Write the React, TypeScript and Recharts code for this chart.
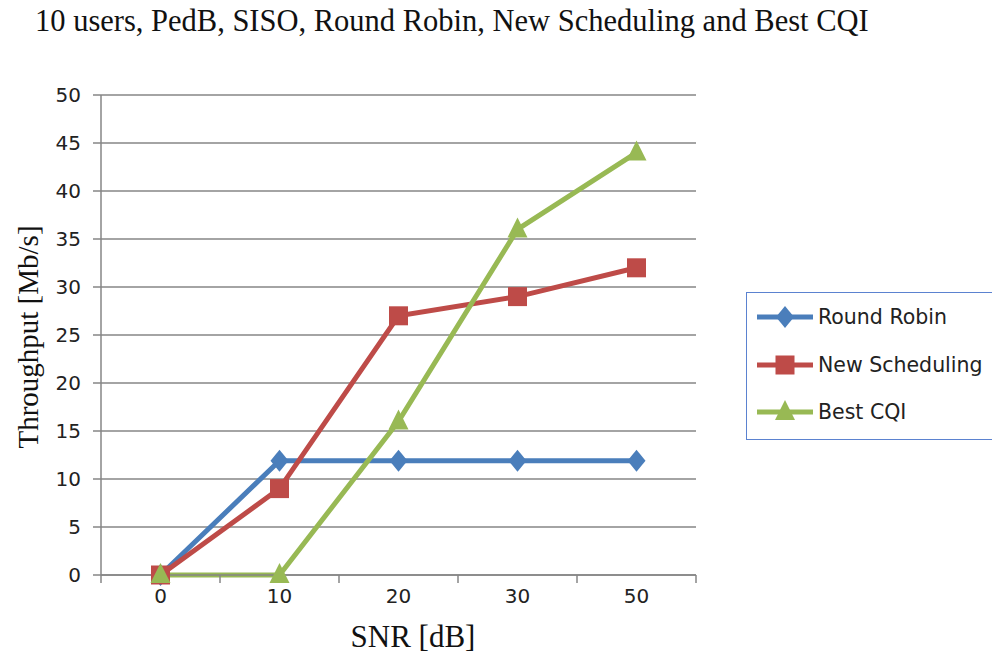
import { LineChart, Line, XAxis, YAxis, CartesianGrid } from 'recharts';

const snrLabels = ['0', '10', '20', '30', '50'];
const roundRobin = [0, 11.9, 11.9, 11.9, 11.9];
const newScheduling = [0, 9, 27, 29, 32];
const bestCqi = [0, 0, 16, 36, 44];
const yTicks = [0, 5, 10, 15, 20, 25, 30, 35, 40, 45, 50];

const BLUE = '#4A7EBB';
const RED = '#BE4B48';
const GREEN = '#98B954';
const AXIS = '#868686';
const TICK_FONT = '"DejaVu Sans", "Noto Sans", sans-serif';
const SERIF = '"Liberation Serif", "Times New Roman", serif';

const data = snrLabels.map((snr, i) => ({
  snr,
  rr: roundRobin[i],
  ns: newScheduling[i],
  cqi: bestCqi[i],
}));

const series = [
  { key: 'rr', name: 'Round Robin', color: BLUE, shape: 'diamond' },
  { key: 'ns', name: 'New Scheduling', color: RED, shape: 'square' },
  { key: 'cqi', name: 'Best CQI', color: GREEN, shape: 'triangle' },
];

function Marker({ cx, cy, shape, color }: { cx: number; cy: number; shape: string; color: string }) {
  if (cx == null || cy == null) return null;
  if (shape === 'diamond') {
    return <path d={`M${cx},${cy - 11} L${cx + 9},${cy} L${cx},${cy + 11} L${cx - 9},${cy} Z`} fill={color} />;
  }
  if (shape === 'square') {
    return <rect x={cx - 9.5} y={cy - 9.5} width={19} height={19} fill={color} />;
  }
  return <path d={`M${cx},${cy - 12} L${cx + 10},${cy + 8} L${cx - 10},${cy + 8} Z`} fill={color} />;
}

const BAND = 119;

function XTick(props: any) {
  const { x, y, payload, index } = props;
  const axisY = y - 8;
  return (
    <g>
      <line x1={x - BAND / 2} y1={axisY} x2={x - BAND / 2} y2={axisY + 8} stroke={AXIS} strokeWidth={1.5} />
      {index === snrLabels.length - 1 && (
        <line x1={x + BAND / 2} y1={axisY} x2={x + BAND / 2} y2={axisY + 8} stroke={AXIS} strokeWidth={1.5} />
      )}
      <text x={x} y={axisY + 28} textAnchor="middle" fontSize={20} fill="#222" fontFamily={TICK_FONT}>
        {payload.value}
      </text>
    </g>
  );
}

export default function App() {
  return (
    <div style={{ position: 'absolute', left: 0, top: 0, width: 992, height: 660, background: '#fff' }}>
      <div
        style={{
          position: 'absolute',
          left: 35,
          top: 4,
          fontFamily: SERIF,
          fontSize: 30.5,
          color: '#111',
          whiteSpace: 'nowrap',
        }}
      >
        10 users, PedB, SISO, Round Robin, New Scheduling and Best CQI
      </div>
      <LineChart
        width={992}
        height={660}
        data={data}
        margin={{ top: 95, right: 296, left: 41, bottom: 35 }}
      >
        <CartesianGrid vertical={false} stroke={AXIS} strokeWidth={1.5} />
        <XAxis
          dataKey="snr"
          height={50}
          stroke={AXIS}
          strokeWidth={1.5}
          tickLine={false}
          tick={<XTick />}
          interval={0}
          padding={{ left: BAND / 2, right: BAND / 2 }}
        />
        <YAxis
          width={60}
          domain={[0, 50]}
          ticks={yTicks}
          stroke={AXIS}
          strokeWidth={1.5}
          tickSize={8}
          tickMargin={12}
          tick={{ fontSize: 20, fill: '#222', fontFamily: TICK_FONT }}
          interval={0}
        />
        {series.map((s) => (
          <Line
            key={s.key}
            dataKey={s.key}
            name={s.name}
            type="linear"
            stroke={s.color}
            strokeWidth={5}
            isAnimationActive={false}
            dot={(p: any) => <Marker key={`${s.key}-${p.index}`} cx={p.cx} cy={p.cy} shape={s.shape} color={s.color} />}
            activeDot={false}
          />
        ))}
      </LineChart>
      <div
        style={{
          position: 'absolute',
          left: 28,
          top: 337,
          transform: 'translate(-50%, -50%) rotate(-90deg)',
          fontFamily: SERIF,
          fontSize: 29,
          color: '#111',
          whiteSpace: 'nowrap',
        }}
      >
        Throughput [Mb/s]
      </div>
      <div
        style={{
          position: 'absolute',
          left: 413,
          top: 637,
          transform: 'translate(-50%, -50%)',
          fontFamily: SERIF,
          fontSize: 31,
          color: '#111',
          whiteSpace: 'nowrap',
        }}
      >
        SNR [dB]
      </div>
      <div
        style={{
          position: 'absolute',
          left: 746,
          top: 292,
          width: 260,
          height: 148,
          border: '1.5px solid #5B82D0',
          boxSizing: 'border-box',
        }}
      >
        {series.map((s, i) => (
          <div
            key={s.key}
            style={{ position: 'absolute', left: 10, top: 9 + i * 47.5, height: 30, display: 'flex', alignItems: 'center' }}
          >
            <svg width={57} height={26}>
              <line x1={0} y1={13} x2={56} y2={13} stroke={s.color} strokeWidth={5} />
              <Marker cx={28} cy={13} shape={s.shape} color={s.color} />
            </svg>
            <span style={{ fontFamily: TICK_FONT, fontSize: 20.5, color: '#222', marginLeft: 4, whiteSpace: 'nowrap' }}>
              {s.name}
            </span>
          </div>
        ))}
      </div>
    </div>
  );
}
